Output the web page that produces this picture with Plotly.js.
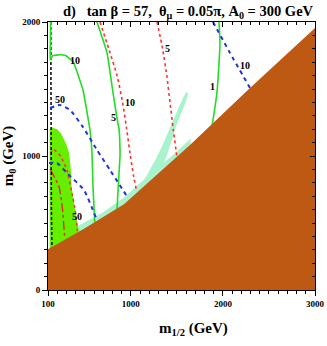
<!DOCTYPE html>
<html><head><meta charset="utf-8">
<script src="https://cdn.plot.ly/plotly-3.0.1.min.js"></script>
<style>html,body{margin:0;padding:0;background:#fff}#chart{width:327px;height:346px}</style>
</head><body><div id="chart"></div>
<script>
// ---- data (m1/2 in GeV, m0 in GeV) ----
const brownX = [100, 100, 500, 925, 1642, 2294, 3000, 3000];
const brownY = [0, 305, 460, 640, 1082, 1507, 1955, 0];

const mintBandX = [170, 400, 700, 925, 1200, 1460, 1650, 1650, 170];
const mintBandY = [385, 470, 580, 690, 860, 1010, 1130, 900, 280];
const mintFingerX = [1120, 1200, 1284, 1350, 1425, 1500, 1566, 1605, 1622, 1600, 1550, 1490, 1440, 1390, 1330, 1250];
const mintFingerY = [790, 890, 995, 1090, 1210, 1330, 1435, 1480, 1462, 1410, 1320, 1220, 1110, 1000, 900, 820];

const limeX = [118, 140, 200, 245, 300, 330, 348, 356, 385, 418, 442, 442, 118];
const limeY = [1195, 1212, 1200, 1165, 1085, 1020, 900, 770, 640, 522, 410, 300, 300];

const black1X = [130, 130, 133, 137, 143];
const black1Y = [2000, 1500, 1000, 600, 300];

const green10X = [128, 126, 124, 150, 230, 290, 372, 480, 556, 578, 589, 610];
const green10Y = [2000, 1850, 1716, 1748, 1756, 1750, 1705, 1493, 1194, 1022, 769, 470];
const green5X = [632, 741, 806, 860, 872, 882, 882, 865, 850];
const green5Y = [2000, 1770, 1472, 1240, 1200, 1048, 996, 800, 600];
const green1X = [1957, 1968, 1935, 1881];
const green1Y = [2000, 1844, 1472, 1220];

const red10X = [665, 760, 850, 910, 955, 995, 1030, 1062];
const red10Y = [2000, 1800, 1600, 1400, 1200, 1000, 850, 740];
const red5X = [1284, 1345, 1392, 1425, 1460, 1501];
const red5Y = [2000, 1800, 1590, 1400, 1200, 990];
const redArcX = [125, 160, 240, 305, 360, 400, 418];
const redArcY = [1020, 1050, 995, 895, 725, 575, 440];
const redDashX = [125, 220, 255, 275, 282];
const redDashY = [900, 770, 620, 450, 385];

const blue50aX = [122, 230, 339, 480, 632, 773, 969];
const blue50aY = [1358, 1381, 1343, 1216, 1045, 896, 687];
const blue50bX = [111, 198, 306, 491, 600, 632];
const blue50bY = [948, 948, 873, 746, 575, 522];
const blue10X = [1892, 2077, 2294];
const blue10Y = [2000, 1769, 1507];

const labelText = ['10', '50', '5', '10', '5', '10', '1', '50'];
const labelX = [393, 230, 806, 990, 1403, 2240, 1892, 415];
const labelY = [1716, 1418, 1284, 1396, 1806, 1679, 1522, 552];

const xTicks = [100, 1000, 2000, 3000];
const yTicks = [0, 1000, 2000];

// ---- styling ----
const BROWN = '#BE5914', MINT = '#A9F3CC', LIME = '#66EE00';
const GREEN = '#22DD22', RED = '#FF3030', BLUE = '#2233DD';
const serif = 'Liberation Serif, Times New Roman, serif';

function fillTrace(x, y, color) {
  return {x, y, type: 'scatter', mode: 'lines', fill: 'toself', fillcolor: color,
    line: {width: 0, color: color}, hoverinfo: 'skip', showlegend: false};
}
function lineTrace(x, y, color, width, dash, smooth) {
  return {x, y, type: 'scatter', mode: 'lines',
    line: {color, width, dash, shape: smooth ? 'spline' : 'linear', smoothing: smooth || 0},
    hoverinfo: 'skip', showlegend: false};
}

const traces = [
  fillTrace(mintBandX, mintBandY, MINT),
  fillTrace(mintFingerX, mintFingerY, MINT),
  fillTrace(limeX, limeY, LIME),
  lineTrace(redArcX, redArcY, RED, 1.5, 'dot', 0.5),
  lineTrace(redDashX, redDashY, '#DD2222', 1.3, 'dashdot', 0.5),
  lineTrace(black1X, black1Y, '#000', 1.5, '3px,2px', 0),
  lineTrace(green10X, green10Y, GREEN, 1.6, 'solid', 0.3),
  lineTrace(green5X, green5Y, GREEN, 1.6, 'solid', 0.4),
  lineTrace(green1X, green1Y, GREEN, 1.6, 'solid', 0.5),
  lineTrace(red10X, red10Y, RED, 1.6, 'dot', 0.6),
  lineTrace(red5X, red5Y, RED, 1.6, 'dot', 0.6),
  lineTrace(blue50aX, blue50aY, BLUE, 2, '4px,4px', 0.5),
  lineTrace(blue50bX, blue50bY, BLUE, 2, '4px,4px', 0.5),
  lineTrace(blue10X, blue10Y, BLUE, 2, '4px,4px', 0.5),
  fillTrace(brownX, brownY, BROWN),
  {x: [null], y: [null], xaxis: 'x2', yaxis: 'y2', type: 'scatter', mode: 'markers', showlegend: false, hoverinfo: 'skip'}
];

const annotations = labelText.map((t, i) => ({
  x: labelX[i], y: labelY[i], xref: 'x', yref: 'y', text: '<b>' + t + '</b>', showarrow: false,
  font: {family: serif, size: 10, color: '#000'}
}));
annotations.push({
  x: 0.545, y: -0.105, xref: 'paper', yref: 'paper', yanchor: 'top', showarrow: false,
  text: '<b>m<sub>1/2</sub> (GeV)</b>', font: {family: serif, size: 15, color: '#000'}
});

const axBase = {
  showgrid: false, zeroline: false, showline: true, linecolor: '#000', linewidth: 1,
  tickcolor: '#000', tickfont: {family: serif, size: 9, color: '#000', weight: 'bold'}
};

const layout = {
  width: 327, height: 346,
  margin: {l: 48, r: 12, t: 22, b: 56},
  paper_bgcolor: '#fff', plot_bgcolor: '#fff',
  showlegend: false,
  title: {text: '<b>d)   tan β = 57,  θ<sub>μ</sub> = 0.05π, A<sub>0</sub> = 300 GeV</b>',
    font: {family: serif, size: 14.5, color: '#000'}, x: 0.575, xanchor: 'center', y: 0.968, yanchor: 'middle'},
  xaxis: Object.assign({}, axBase, {
    range: [100, 3000], tickmode: 'array', tickvals: xTicks, ticktext: xTicks.map(v => '<b>' + v + '</b>'),
    ticks: 'outside', ticklen: 5,
    minor: {tickmode: 'linear', tick0: 0, dtick: 100, ticks: 'outside', ticklen: 3, tickcolor: '#000'}
  }),
  yaxis: Object.assign({}, axBase, {
    range: [0, 2000], tickmode: 'array', tickvals: yTicks, ticktext: yTicks.map(v => '<b>' + v + '</b>'),
    ticks: 'outside', ticklen: 5,
    minor: {tickmode: 'linear', tick0: 0, dtick: 100, ticks: 'outside', ticklen: 3, tickcolor: '#000'},
    title: {text: '<b>m<sub>0</sub> (GeV)</b>', font: {family: serif, size: 15, color: '#000'}, standoff: 6}
  }),
  xaxis2: Object.assign({}, axBase, {
    overlaying: 'x', side: 'top', range: [100, 3000], tickmode: 'array', tickvals: xTicks,
    showticklabels: false, ticks: 'inside', ticklen: 5,
    minor: {tickmode: 'linear', tick0: 0, dtick: 100, ticks: 'inside', ticklen: 3, tickcolor: '#000'}
  }),
  yaxis2: Object.assign({}, axBase, {
    overlaying: 'y', side: 'right', range: [0, 2000], tickmode: 'array', tickvals: yTicks,
    showticklabels: false, ticks: 'inside', ticklen: 5,
    minor: {tickmode: 'linear', tick0: 0, dtick: 100, ticks: 'inside', ticklen: 3, tickcolor: '#000'}
  }),
  annotations
};

Plotly.newPlot('chart', traces, layout, {staticPlot: true, displayModeBar: false});
</script></body></html>
